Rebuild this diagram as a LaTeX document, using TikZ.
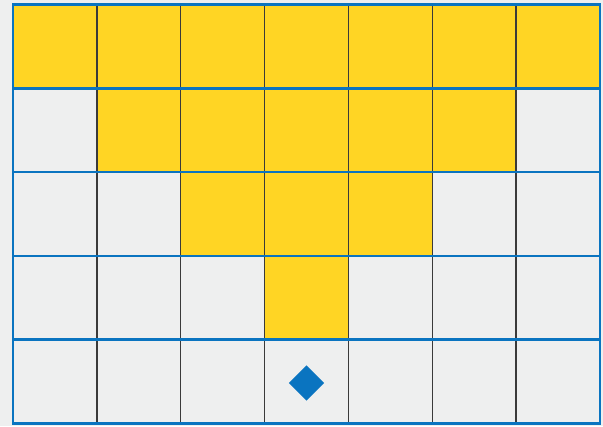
\documentclass[tikz,border=0pt]{standalone}
\usetikzlibrary{shapes.geometric}
\definecolor{bgc}{HTML}{EEEFEF}
\definecolor{ylw}{HTML}{FFD524}
\definecolor{blu}{HTML}{0A74C0}
\definecolor{gln}{HTML}{3A3A3A}
\tikzset{
  hline/.style={draw=blu,line width=1.9pt},
  vline/.style={draw=gln,line width=1.1pt},
  cellfill/.style={fill=ylw},
  marker/.style={diamond,fill=blu,draw=none,minimum width=26.5pt,minimum height=26.5pt,inner sep=0pt}
}
\begin{document}
\begin{tikzpicture}[x=0.75pt,y=-0.75pt]
\useasboundingbox (0,0) rectangle (603,426);
\fill[bgc] (0,0) rectangle (603,426);
\def\xo{13}\def\yo{4.5}\def\dx{83.85}\def\dy{83.8}
% yellow cells
\foreach \r/\a/\b in {0/0/6,1/1/5,2/2/4,3/3/3}{
  \foreach \c in {\a,...,\b}{
    \fill[cellfill] ({\xo+\c*\dx},{\yo+\r*\dy}) rectangle ({\xo+(\c+1)*\dx},{\yo+(\r+1)*\dy});
  }
}
% vertical inner lines
\foreach \c in {1,...,6}{
  \draw[vline] ({\xo+\c*\dx},\yo) -- ({\xo+\c*\dx},{\yo+5*\dy});
}
% horizontal blue lines
\foreach \r in {0,...,5}{
  \draw[hline] ({\xo-1},{\yo+\r*\dy}) -- ({\xo+7*\dx+1},{\yo+\r*\dy});
}
% outer vertical borders
\draw[hline] (\xo,\yo) -- (\xo,{\yo+5*\dy});
\draw[hline] ({\xo+7*\dx},\yo) -- ({\xo+7*\dx},{\yo+5*\dy});
% diamond marker
\node[marker] (mark) at (306.5,383) {};
\end{tikzpicture}
\end{document}
